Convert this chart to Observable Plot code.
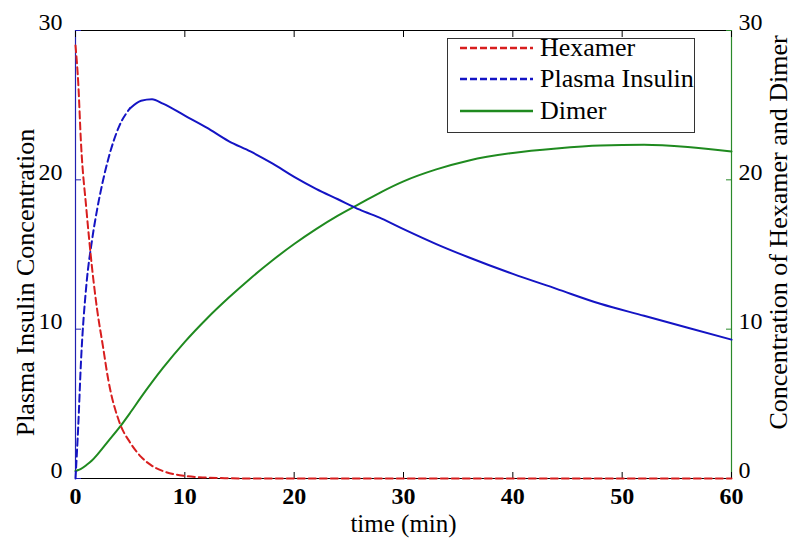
<!DOCTYPE html>
<html><head><meta charset="utf-8">
<script src="https://cdn.jsdelivr.net/npm/d3@7"></script>
<script src="https://cdn.jsdelivr.net/npm/@observablehq/plot@0.6"></script>
<style>
body{margin:0;background:#fff;}
#wrap{position:relative;width:792px;height:546px;font-family:"Liberation Serif","Times New Roman",serif;}
#legend{position:absolute;left:447px;top:38px;width:248px;height:95px;border:1px solid #333;background:#fff;box-sizing:border-box;}
.row{position:absolute;left:0;height:30px;display:flex;align-items:center;font-size:26px;line-height:30px;white-space:nowrap;font-family:"Liberation Serif","Times New Roman",serif;}
.row svg{margin-left:12px;margin-right:7px;}
</style></head><body><div id="wrap"></div>
<script>
// ---- data ----
const time          = [0, 0.25, 0.5, 1, 1.5, 2, 2.5, 3, 4, 5, 6, 7, 8, 10, 12, 14, 16, 18, 20, 22, 24, 26, 28, 30, 33, 36, 40, 44, 48, 52, 56, 60];
const hexamer       = [29.0, 26.5, 22.5, 18.0, 14.2, 11.2, 8.9, 6.6, 3.8, 2.4, 1.45, 0.85, 0.5, 0.17, 0.06, 0.02, 0, 0, 0, 0, 0, 0, 0, 0, 0, 0, 0, 0, 0, 0, 0, 0];
const plasmaInsulin = [0, 3.5, 7.8, 13.0, 15.9, 18.1, 19.9, 21.4, 23.6, 24.8, 25.3, 25.4, 25.1, 24.3, 23.5, 22.6, 21.9, 21.1, 20.2, 19.4, 18.7, 18.0, 17.4, 16.7, 15.7, 14.8, 13.7, 12.7, 11.7, 10.9, 10.1, 9.3];
const dimer         = [0.5, 0.57, 0.65, 0.9, 1.2, 1.6, 2.05, 2.5, 3.4, 4.4, 5.45, 6.45, 7.4, 9.15, 10.7, 12.1, 13.4, 14.6, 15.7, 16.7, 17.6, 18.4, 19.2, 19.9, 20.7, 21.3, 21.8, 22.1, 22.3, 22.35, 22.2, 21.9];
const xTicks = [0, 10, 20, 30, 40, 50, 60];
const yTicks = [0, 10, 20, 30];
const seriesNames  = ["Hexamer", "Plasma Insulin", "Dimer"];
const seriesColors = ["#d81e1e", "#1414c4", "#1f8a1f"];
const seriesDashed = [true, true, false];
const xLabel = "time (min)";
const yLeftLabel = "Plasma Insulin Concentration";
const yRightLabel = "Concentration of Hexamer and Dimer";

const rows = time.map((t, i) => ({t, hex: hexamer[i], ins: plasmaInsulin[i], dim: dimer[i]}));
const leftColor = "#2020b0", rightColor = "#2a8a2a";
const font = "Liberation Serif, Times New Roman, serif";

const plot = Plot.plot({
  width: 792, height: 546,
  marginLeft: 75, marginRight: 61, marginTop: 30, marginBottom: 68,
  style: {fontFamily: font, fontSize: "24px", background: "white", color: "black", overflow: "visible"},
  x: {domain: [0, 60]},
  y: {domain: [0, 30]},
  marks: [
    // frame
    Plot.ruleY([0], {stroke: "black", strokeWidth: 1.2}),
    Plot.ruleY([30], {stroke: "black", strokeWidth: 1}),
    Plot.ruleX([0], {stroke: leftColor, strokeWidth: 1.2}),
    Plot.ruleX([60], {stroke: rightColor, strokeWidth: 1.2}),
    // inward ticks
    Plot.axisX({ticks: xTicks, tickSize: -6, fill: "none", stroke: "black", label: null}),
    Plot.axisX({anchor: "top", ticks: xTicks, tickSize: -6, fill: "none", stroke: "black", label: null}),
    Plot.axisY({ticks: yTicks, tickSize: -6, fill: "none", stroke: leftColor, label: null}),
    Plot.axisY({anchor: "right", ticks: yTicks, tickSize: -6, fill: "none", stroke: rightColor, label: null}),
    // tick labels
    Plot.axisX({ticks: xTicks, tickSize: 0, tickPadding: 8, fontWeight: "bold", fontSize: 24, label: null}),
    Plot.axisY({ticks: yTicks, tickSize: 0, tickPadding: 13, dy: -8, fontSize: 24, label: null}),
    Plot.axisY({anchor: "right", ticks: yTicks, tickSize: 0, tickPadding: 7, dy: -8, fontSize: 24, label: null}),
    // axis titles
    Plot.text([xLabel], {frameAnchor: "bottom", dy: 53, fontSize: 25, fill: "black"}),
    Plot.text([yLeftLabel], {frameAnchor: "left", textAnchor: "middle", rotate: -90, dx: -50, dy: 28, fontSize: 26, fill: "black"}),
    Plot.text([yRightLabel], {frameAnchor: "right", textAnchor: "middle", rotate: -90, dx: 47, dy: -22, fontSize: 26, fill: "black"}),
    // series
    Plot.line(rows, {x: "t", y: "dim", stroke: seriesColors[2], strokeWidth: 2, curve: "monotone-x"}),
    Plot.line(rows.filter(d => d.t <= 5), {x: "t", y: "ins", stroke: seriesColors[1], strokeWidth: 2, strokeDasharray: "7,4", curve: "monotone-x"}),
    Plot.line(rows.filter(d => d.t >= 5), {x: "t", y: "ins", stroke: seriesColors[1], strokeWidth: 2, curve: "monotone-x"}),
    Plot.line(rows, {x: "t", y: "hex", stroke: seriesColors[0], strokeWidth: 2, strokeDasharray: "7,4", curve: "monotone-x"})
  ]
});

const wrap = document.getElementById("wrap");
wrap.appendChild(plot);

// legend
const legend = document.createElement("div");
legend.id = "legend";
const rowTops = [-6, 25, 57];
seriesNames.forEach((name, i) => {
  const r = document.createElement("div");
  r.className = "row";
  r.style.top = rowTops[i] + "px";
  const dash = seriesDashed[i] ? 'stroke-dasharray="7,3"' : "";
  r.innerHTML = `<svg width="73" height="6"><line x1="0" y1="3" x2="73" y2="3" stroke="${seriesColors[i]}" stroke-width="2.5" ${dash}/></svg><span>${name}</span>`;
  legend.appendChild(r);
});
wrap.appendChild(legend);
</script>
</body></html>
